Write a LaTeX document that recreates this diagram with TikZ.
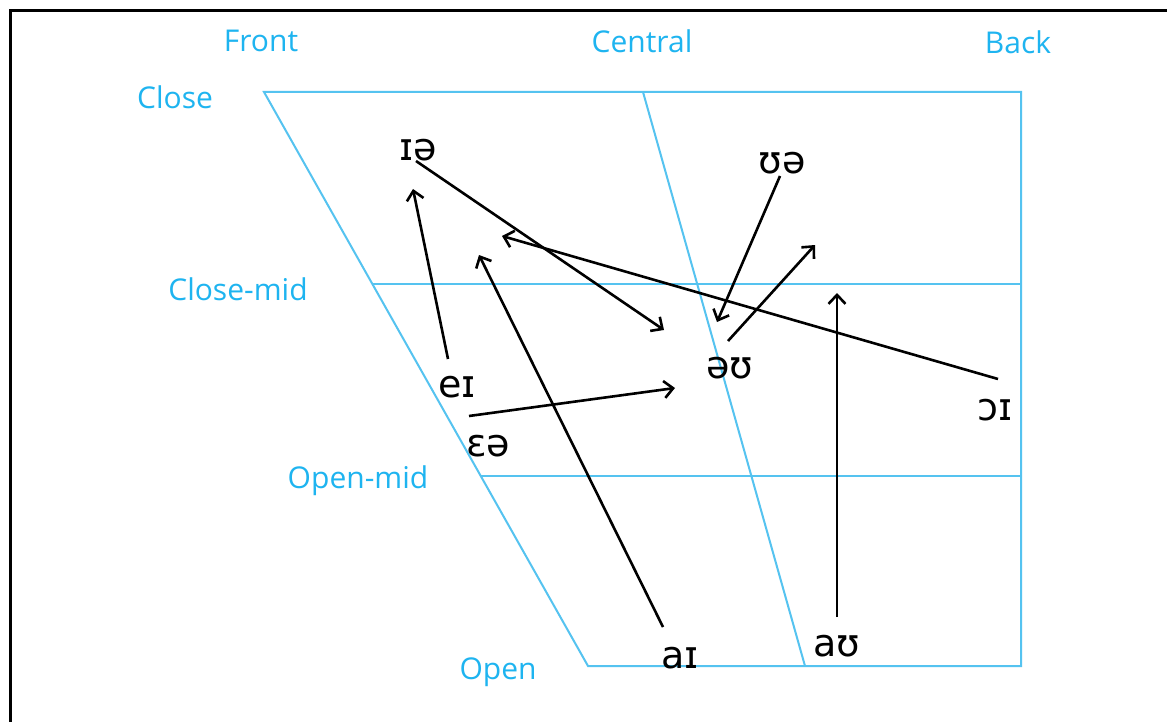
\documentclass[tikz,border=0pt]{standalone}
\usepackage{fontspec}
\setmainfont{Open Sans}
\newfontfamily\ipafont{DejaVu Sans}
\usetikzlibrary{arrows.meta}
\definecolor{lblue}{RGB}{30,180,240}
\definecolor{gblue}{RGB}{85,195,240}
\tikzset{
  grid/.style={draw=gblue,line width=2pt},
  lab/.style={text=lblue,font=\fontsize{30}{34}\selectfont,inner sep=0pt},
  ipa/.style={font=\ipafont\fontsize{38}{42}\selectfont,inner sep=0pt},
  arr/.style={line width=2.6pt,-{Straight Barb[length=9pt,width=17pt,line width=2.6pt]}},
  frame/.style={line width=3pt}
}
\begin{document}
\begin{tikzpicture}[x=1pt,y=-1pt]
\useasboundingbox (0,0) rectangle (1167,722);
\fill[white] (0,0) rectangle (1167,722);
\draw[frame] (1168,11) -- (10,11) -- (10,723);
% chart
\coordinate (TL) at (264,92);
\coordinate (TR) at (1021,92);
\coordinate (BL) at (588,666);
\coordinate (BR) at (1021,666);
\coordinate (CT) at (643,92);
\coordinate (CB) at (805,666);
\coordinate (CML) at (372.4,284);
\coordinate (CMR) at (1021,284);
\coordinate (OML) at (480.8,476);
\coordinate (OMR) at (1021,476);
\draw[grid] (TL) -- (TR) -- (BR) -- (BL) -- cycle;
\draw[grid] (CT) -- (CB);
\draw[grid] (CML) -- (CMR);
\draw[grid] (OML) -- (OMR);
% labels
\node[lab] (front) at (261,41) {Front};
\node[lab] (central) at (642,41) {Central};
\node[lab] (back) at (1018,42) {Back};
\node[lab] (close) at (175,97) {Close};
\node[lab] (closemid) at (238,289) {Close-mid};
\node[lab] (openmid) at (358,481) {Open-mid};
\node[lab] (open) at (498,672) {Open};
% IPA
\node[ipa] (ia) at (418,150) {ɪə};
\node[ipa] (ua) at (782,163) {ʊə};
\node[ipa] (ei) at (457,387) {eɪ};
\node[ipa] (au2) at (730,368) {əʊ};
\node[ipa] (oi) at (995,410) {ɔɪ};
\node[ipa] (ea) at (488,446) {ɛə};
\node[ipa] (ai) at (680,658) {aɪ};
\node[ipa] (au) at (837,646) {aʊ};
% arrow ends
\coordinate (ia-s) at (416,161);
\coordinate (ia-e) at (664,330);
\coordinate (ei-s) at (448,359);
\coordinate (ei-e) at (413,189);
\coordinate (oi-s) at (998,379);
\coordinate (oi-e) at (502,236);
\coordinate (ai-s) at (663,627);
\coordinate (ai-e) at (479,255);
\coordinate (ea-s) at (469,416);
\coordinate (ea-e) at (675,388);
\coordinate (ua-s) at (780,176);
\coordinate (ua-e) at (717,322);
\coordinate (ou-s) at (728,341);
\coordinate (ou-e) at (815,245);
\coordinate (au-s) at (837,617);
\coordinate (au-e) at (837,293);
\draw[arr] (ia-s) -- (ia-e);
\draw[arr] (ei-s) -- (ei-e);
\draw[arr] (oi-s) -- (oi-e);
\draw[arr] (ai-s) -- (ai-e);
\draw[arr] (ea-s) -- (ea-e);
\draw[arr] (ua-s) -- (ua-e);
\draw[arr] (ou-s) -- (ou-e);
\draw[arr] (au-s) -- (au-e);
\end{tikzpicture}
\end{document}
